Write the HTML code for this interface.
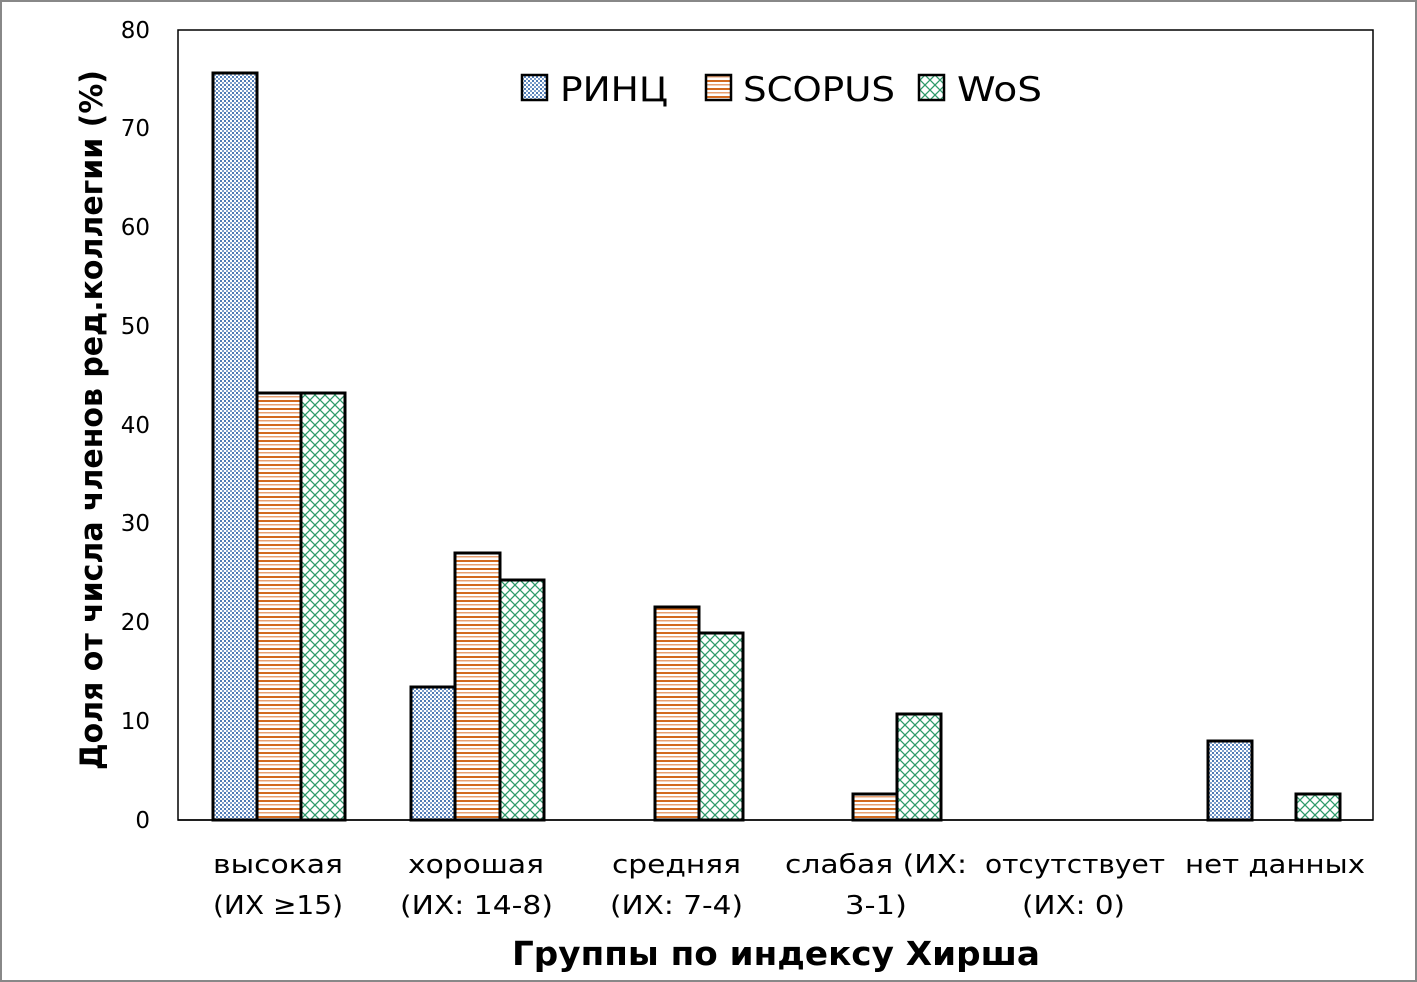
<!DOCTYPE html>
<html><head><meta charset="utf-8"><style>
body{margin:0;background:#fff;}
svg{display:block;}
text{font-family:"DejaVu Sans","Liberation Sans",sans-serif;}
</style></head><body>
<svg width="1417" height="982" viewBox="0 0 1417 982">
<defs>
<pattern id="pb" width="4" height="4" patternUnits="userSpaceOnUse">
<rect width="4" height="4" fill="#fff"/><rect width="2" height="2" fill="#4f7bb5"/><rect x="2" y="2" width="2" height="2" fill="#7fa0cc"/>
</pattern>
<pattern id="po" width="8" height="8" patternUnits="userSpaceOnUse">
<rect width="8" height="8" fill="#fff"/><rect y="0" width="8" height="2" fill="#d2691e"/><rect y="4" width="8" height="1.5" fill="#e8a070"/>
</pattern>
<pattern id="pg" width="10" height="10" patternUnits="userSpaceOnUse">
<rect width="10" height="10" fill="#fff"/><path d="M0 0L10 10M10 0L0 10" stroke="#2e9a6a" stroke-width="1.3"/>
</pattern>
</defs>
<rect x="1" y="1" width="1415" height="980" fill="#fff" stroke="#888" stroke-width="2"/>
<rect x="178" y="30" width="1195" height="790" fill="none" stroke="#000" stroke-width="1.5"/>
<g font-size="23" text-anchor="end" fill="#000">
<text x="150" y="828">0</text><text x="150" y="729">10</text><text x="150" y="630">20</text><text x="150" y="531">30</text>
<text x="150" y="433">40</text><text x="150" y="334">50</text><text x="150" y="235">60</text><text x="150" y="136">70</text><text x="150" y="38">80</text>
</g>
<g stroke="#000" stroke-width="3">
<rect x="213" y="73" width="44" height="747" fill="url(#pb)"/>
<rect x="257" y="393" width="44" height="427" fill="url(#po)"/>
<rect x="301" y="393" width="44" height="427" fill="url(#pg)"/>
<rect x="411" y="687" width="44" height="133" fill="url(#pb)"/>
<rect x="455" y="553" width="45" height="267" fill="url(#po)"/>
<rect x="500" y="580" width="44" height="240" fill="url(#pg)"/>
<rect x="655" y="607" width="44" height="213" fill="url(#po)"/>
<rect x="699" y="633" width="44" height="187" fill="url(#pg)"/>
<rect x="853" y="794" width="44" height="26" fill="url(#po)"/>
<rect x="897" y="714" width="44" height="106" fill="url(#pg)"/>
<rect x="1208" y="741" width="44" height="79" fill="url(#pb)"/>
<rect x="1296" y="794" width="44" height="26" fill="url(#pg)"/>
</g>
<line x1="178" y1="820" x2="1373" y2="820" stroke="#000" stroke-width="1.5"/>
<g stroke="#000" stroke-width="2.5">
<rect x="522" y="75" width="25" height="25" fill="url(#pb)"/>
<rect x="706" y="75" width="25" height="25" fill="url(#po)"/>
<rect x="919" y="75" width="25" height="25" fill="url(#pg)"/>
</g>
<g font-size="34" fill="#000">
<text x="560" y="101" textLength="108" lengthAdjust="spacingAndGlyphs">РИНЦ</text>
<text x="743" y="101" textLength="152" lengthAdjust="spacingAndGlyphs">SCOPUS</text>
<text x="957" y="101" textLength="85" lengthAdjust="spacingAndGlyphs">WoS</text>
</g>
<g font-size="26" fill="#000">
<text x="213" y="873" textLength="130" lengthAdjust="spacingAndGlyphs">высокая</text>
<text x="213" y="914" textLength="130" lengthAdjust="spacingAndGlyphs">(ИХ ≥15)</text>
<text x="408" y="873" textLength="136" lengthAdjust="spacingAndGlyphs">хорошая</text>
<text x="400" y="914" textLength="153" lengthAdjust="spacingAndGlyphs">(ИХ: 14-8)</text>
<text x="612" y="873" textLength="129" lengthAdjust="spacingAndGlyphs">средняя</text>
<text x="610" y="914" textLength="133" lengthAdjust="spacingAndGlyphs">(ИХ: 7-4)</text>
<text x="785" y="873" textLength="182" lengthAdjust="spacingAndGlyphs">слабая (ИХ:</text>
<text x="845" y="914" textLength="62" lengthAdjust="spacingAndGlyphs">3-1)</text>
<text x="985" y="873" textLength="180" lengthAdjust="spacingAndGlyphs">отсутствует</text>
<text x="1022" y="914" textLength="103" lengthAdjust="spacingAndGlyphs">(ИХ: 0)</text>
<text x="1185" y="873" textLength="180" lengthAdjust="spacingAndGlyphs">нет данных</text>
</g>
<text x="512" y="965" font-size="33" font-weight="bold" textLength="528" lengthAdjust="spacingAndGlyphs">Группы по индексу Хирша</text>
<text transform="translate(102,770) rotate(-90)" font-size="31" font-weight="bold" textLength="700" lengthAdjust="spacingAndGlyphs">Доля от числа членов  ред.коллегии (%)</text>
</svg>
</body></html>
